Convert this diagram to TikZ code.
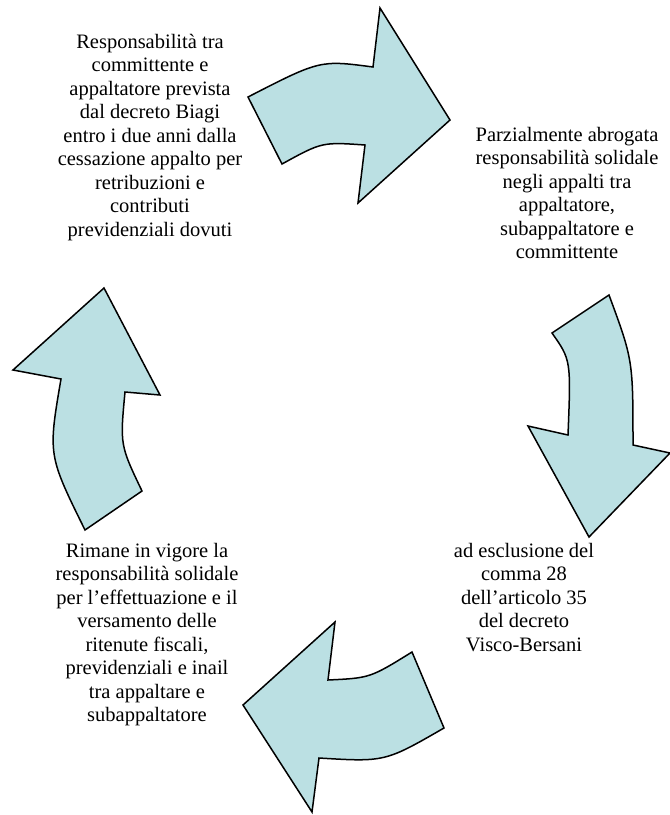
\documentclass[tikz,border=0pt]{standalone}
\usepackage{fontspec}
\setmainfont{Liberation Serif}
\definecolor{arrowfill}{RGB}{187,224,227}
\tikzset{
  cyclearrow/.style={draw=black, line width=1.5pt, fill=arrowfill, line join=miter},
  cyclelabel/.style={align=center, inner sep=0pt, anchor=north, font=\fontsize{20.5}{23.5}\selectfont}
}
\begin{document}
\begin{tikzpicture}[x=1pt, y=-1pt]
\useasboundingbox (0,0) rectangle (670,815);
% top arrow (points right)
\draw[cyclearrow] (248,97) .. controls (320,60) .. (373,67) -- (380,8) -- (450,120)
  -- (358,203) -- (365,145) .. controls (322,142) .. (282,164) -- cycle;
% right arrow (points down)
\draw[cyclearrow] (609,295) -- (552,333) .. controls (571,360) .. (568,435) -- (528,426)
  -- (589,537) -- (670,453) -- (633,445) .. controls (633,360) .. cycle;
% bottom arrow (points left)
\draw[cyclearrow] (412,652) .. controls (370,678) .. (328,680) -- (335,622) -- (243,705)
  -- (312,812) -- (319,758) .. controls (385,762) .. (444,728) -- cycle;
% left arrow (points up)
\draw[cyclearrow] (104,288) -- (13,370) -- (61,379) .. controls (48,455) .. (85,530)
  -- (142,491) .. controls (120,445) .. (125,392) -- (160,395) -- cycle;
% texts
\node[cyclelabel] (t1) at (150,34) {Responsabilità tra\\committente e\\appaltatore prevista\\dal decreto Biagi\\entro i due anni dalla\\cessazione appalto per\\retribuzioni e\\contributi\\previdenziali dovuti};
\node[cyclelabel] (t2) at (567,127) {Parzialmente abrogata\\responsabilità solidale\\negli appalti tra\\appaltatore,\\subappaltatore e\\committente};
\node[cyclelabel] (t3) at (524,543) {ad esclusione del\\comma 28\\dell’articolo 35\\del decreto\\Visco-Bersani};
\node[cyclelabel] (t4) at (147,543) {Rimane in vigore la\\responsabilità solidale\\per l’effettuazione e il\\versamento delle\\ritenute fiscali,\\previdenziali e inail\\tra appaltare e\\subappaltatore};
\end{tikzpicture}
\end{document}
